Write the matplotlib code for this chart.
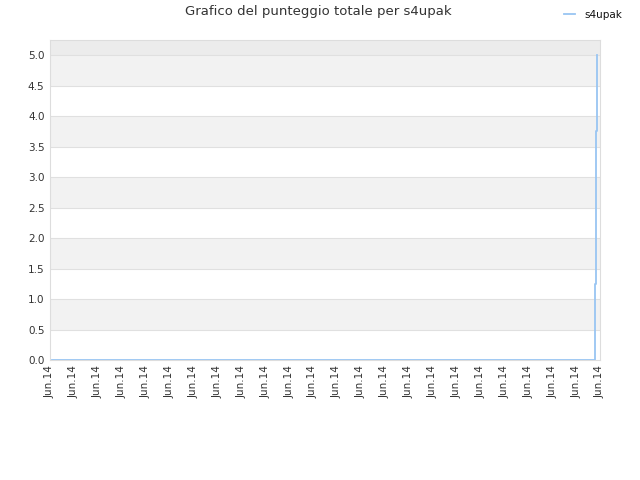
import matplotlib
matplotlib.use("Agg")
import matplotlib.pyplot as plt
import numpy as np

# data
tick_labels = ["Jun.14"] * 24
times = [0.07, 22.80, 22.83, 22.89]      # hours since start
scores = [0.0, 1.25, 3.75, 5.0]
y_ticks = [0.0, 0.5, 1.0, 1.5, 2.0, 2.5, 3.0, 3.5, 4.0, 4.5, 5.0]
series_name = "s4upak"
title = "Grafico del punteggio totale per s4upak"

plt.rcParams['font.family'] = ['DejaVu Sans']
fig = plt.figure(figsize=(6.4, 4.8), dpi=100)
ax = fig.add_axes([50/640, 1-360/480, 550/640, 320/480])

ymax = 5.25
ax.set_ylim(0, ymax)
ax.set_xlim(0, len(tick_labels) - 1)

# alternating bands
for i in range(len(y_ticks) - 1):
    if i % 2 == 1:
        ax.axhspan(y_ticks[i], y_ticks[i+1], color="#f2f2f2", zorder=0, lw=0)
ax.axhspan(y_ticks[-1], ymax, color="#ececec", zorder=0, lw=0)
for v in y_ticks[1:]:
    ax.axhline(v, color="#e0e0e0", lw=0.8, zorder=1)

ax.plot(times, scores, drawstyle="steps-post", color="#99c5f2", lw=1.3, zorder=3,
        label=series_name)

ax.set_yticks(y_ticks)
ax.set_yticklabels([f"{v:.1f}" for v in y_ticks])
ax.set_xticks(np.arange(len(tick_labels)))
ax.set_xticklabels(tick_labels, rotation=90)
ax.tick_params(axis="both", length=0, labelsize=7.5, colors="#333333", pad=4)
for s in ax.spines.values():
    s.set_color("#dddddd")
    s.set_linewidth(0.8)

fig.text(318/640, 1-12/480, title, ha="center", va="center", fontsize=9.5, color="#333333")
leg = fig.legend(loc="center", bbox_to_anchor=(593/640, 1-15/480), frameon=False,
                 fontsize=7.5, handlelength=1.0, handletextpad=0.9)
for t in leg.get_texts():
    t.set_color("#111111")

fig.savefig("out.png", dpi=100)
